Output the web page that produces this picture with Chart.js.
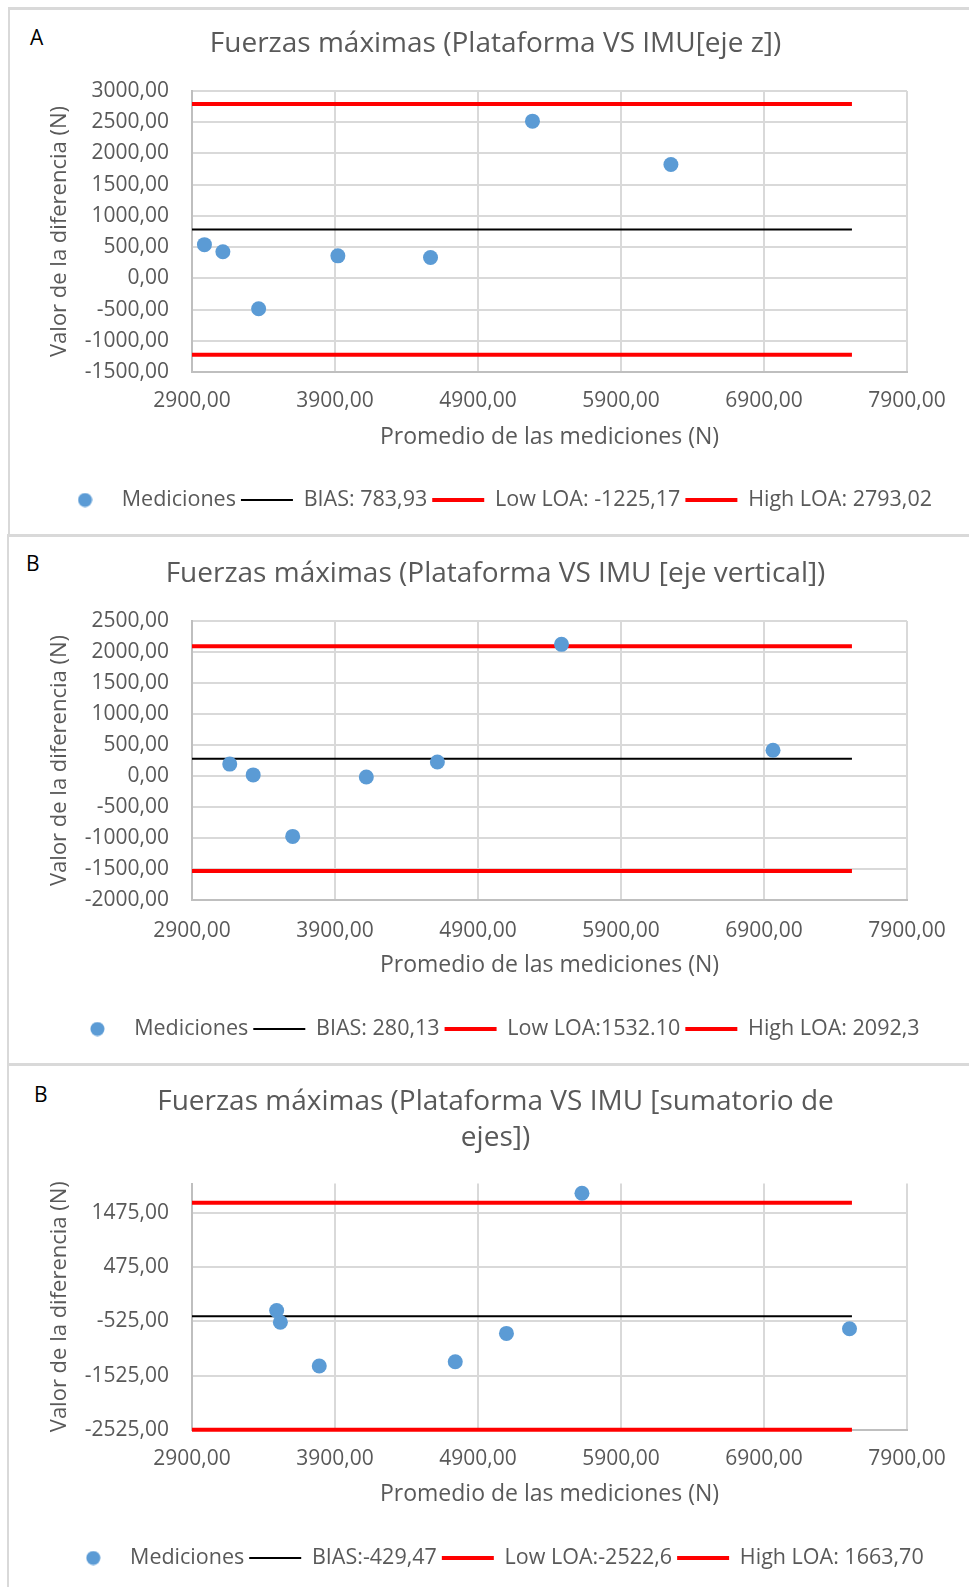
<!DOCTYPE html>
<html lang="es">
<head>
<meta charset="UTF-8">
<title>Fuerzas máximas - Bland-Altman</title>
<script src="https://cdn.jsdelivr.net/npm/chart.js"></script>
<style>
    body {
        margin: 0;
        width: 969px;
        height: 1587px;
        overflow: hidden;
        position: relative;
        background: #fff;
        font-family: "Open Sans", sans-serif;
    }
    /* light grey frame of every Excel chart */
    .frame {
        position: absolute;
        width: 980px;
        border-top: 3px solid #d9d9d9;
        border-left: 2px solid #d9d9d9;
        box-sizing: border-box;
    }
    .tag {
        position: absolute;
        font-size: 21px;
        line-height: 24px;
        color: #000;
    }
    canvas { position: absolute; left: 0; }
</style>
</head>
<body>
    <div class="frame" style="left:8px; top:7px; height:527px;"></div>
    <div class="frame" style="left:7px; top:534px; height:529px;"></div>
    <div class="frame" style="left:7px; top:1063px; height:540px;"></div>
    <div class="tag" style="left:30px; top:25px;">A</div>
    <div class="tag" style="left:26px; top:551px;">B</div>
    <div class="tag" style="left:34px; top:1082px;">B</div>

    <canvas id="chartZ" width="969" height="534" style="top:0px;"></canvas>
    <canvas id="chartV" width="969" height="529" style="top:534px;"></canvas>
    <canvas id="chartS" width="969" height="524" style="top:1063px;"></canvas>
<script>
// ---- data ----
const xTicks = [2900, 3900, 4900, 5900, 6900, 7900];
const lineSpan = [2900, 7515];   // x range of the BIAS / LOA lines

// eje z
const avgZ  = [2987, 3116, 3366, 3920, 4568, 5281, 6249];
const diffZ = [539, 425, -486, 360, 333, 2517, 1824];
const biasZ = 783.93, lowZ = -1225.17, highZ = 2793.02;
const yTicksZ = [-1500, -1000, -500, 0, 500, 1000, 1500, 2000, 2500, 3000];
const legendZ = ['Mediciones', 'BIAS: 783,93', 'Low LOA: -1225,17', 'High LOA: 2793,02'];

// eje vertical
const avgV  = [3164, 3328, 3604, 4119, 4616, 5484, 6963];
const diffV = [192, 18, -974, -15, 225, 2123, 416];
const biasV = 280.13, lowV = -1532.10, highV = 2092.3;
const yTicksV = [-2000, -1500, -1000, -500, 0, 500, 1000, 1500, 2000, 2500];
const legendV = ['Mediciones', 'BIAS: 280,13', 'Low LOA:1532.10', 'High LOA: 2092,3'];

// sumatorio de ejes
const avgS  = [3492, 3518, 3790, 4741, 5099, 5627, 7498];
const diffS = [-324, -538, -1346, -1269, -745, 1841, -658];
const biasS = -429.47, lowS = -2522.6, highS = 1663.70;
const yTicksS = [-2525, -1525, -525, 475, 1475];
const yMaxS = 2020;
const legendS = ['Mediciones', 'BIAS:-429,47', 'Low LOA:-2522,6', 'High LOA: 1663,70'];

const FONT = '"Open Sans", sans-serif';
const GREY = '#595959';
const BLUE = '#5B9BD5';

// little dot used as the legend marker for the scatter series
const dot = document.createElement('canvas');
dot.width = 15; dot.height = 15;
const dctx = dot.getContext('2d');
dctx.fillStyle = BLUE;
dctx.beginPath();
dctx.arc(7.5, 7.5, 7, 0, Math.PI * 2);
dctx.fill();

const fmt = v => Number(v).toFixed(2).replace('.', ',');

function hLine(label, value, color, width) {
    return {
        type: 'line',
        label: label,
        data: lineSpan.map(x => ({ x: x, y: value })),
        borderColor: color,
        backgroundColor: color,
        borderWidth: width,
        pointRadius: 0,
        pointStyle: 'line',
        clip: false,
        yAxisID: 'y'
    };
}

function buildChart(id, d, p) {
    const ctx = document.getElementById(id).getContext('2d');
    return new Chart(ctx, {
        type: 'scatter',
        data: {
            datasets: [
                {
                    label: d.legend[0],
                    data: d.avg.map((x, i) => ({ x: x, y: d.diff[i] })),
                    backgroundColor: BLUE,
                    borderWidth: 0,
                    pointRadius: 7.5,
                    pointHoverRadius: 7.5,
                    clip: false,
                    yAxisID: 'y'
                },
                hLine(d.legend[1], d.bias, '#000000', 2),
                hLine(d.legend[2], d.low, '#FF0000', 4),
                hLine(d.legend[3], d.high, '#FF0000', 4)
            ]
        },
        options: {
            responsive: false,
            animation: false,
            layout: { padding: { left: 22, right: 0, top: 0, bottom: p.padBottom } },
            plugins: {
                tooltip: { enabled: false },
                title: {
                    display: true,
                    text: d.title,
                    color: GREY,
                    font: { family: FONT, size: 28, weight: 'normal', lineHeight: p.titleLH },
                    padding: { top: p.titleTop, bottom: p.titleBottom }
                },
                legend: {
                    position: 'bottom',
                    labels: {
                        usePointStyle: true,
                        pointStyleWidth: 52,
                        boxHeight: 10,
                        padding: 5,
                        color: GREY,
                        font: { family: FONT, size: 21.5 },
                        generateLabels(chart) {
                            const items = Chart.defaults.plugins.legend.labels.generateLabels(chart);
                            items[0].pointStyle = dot;
                            return items;
                        }
                    }
                }
            },
            scales: {
                x: {
                    type: 'linear',
                    min: xTicks[0],
                    max: xTicks[xTicks.length - 1],
                    afterBuildTicks: s => { s.ticks = xTicks.map(v => ({ value: v })); },
                    grid: { color: '#d9d9d9', lineWidth: 2, drawTicks: false },
                    border: { color: '#bfbfbf', width: 2 },
                    ticks: {
                        padding: p.xTickPad,
                        color: GREY,
                        font: { family: FONT, size: 21 },
                        maxRotation: 0,
                        callback: v => fmt(v)
                    },
                    title: {
                        display: true,
                        text: 'Promedio de las mediciones (N)',
                        color: GREY,
                        font: { family: FONT, size: 23 },
                        padding: { top: p.xTitleTop, bottom: p.xTitleBottom }
                    }
                },
                y: {
                    type: 'linear',
                    position: 'left',
                    min: d.yTicks[0],
                    max: d.yMax,
                    afterBuildTicks: s => { s.ticks = d.yTicks.map(v => ({ value: v })); },
                    afterFit: s => { s.width = 170; },
                    grid: { color: '#d9d9d9', lineWidth: 2, drawTicks: false },
                    border: { color: '#bfbfbf', width: 2 },
                    ticks: {
                        padding: 23,
                        color: GREY,
                        font: { family: FONT, size: 21 },
                        callback: v => fmt(v)
                    },
                    title: {
                        display: true,
                        text: 'Valor de la diferencia (N)',
                        color: GREY,
                        font: { family: FONT, size: 22 },
                        padding: { top: 24.8, bottom: 0 }
                    }
                },
                // empty right-hand space so the plot stops at 7900 while the legend stays centred
                y2: {
                    position: 'right',
                    grid: { display: false },
                    border: { display: false },
                    ticks: { display: false },
                    afterFit: s => { s.width = 62; }
                }
            }
        }
    });
}

buildChart('chartZ',
    { avg: avgZ, diff: diffZ, bias: biasZ, low: lowZ, high: highZ, yTicks: yTicksZ,
      yMax: yTicksZ[yTicksZ.length - 1], legend: legendZ,
      title: 'Fuerzas máximas (Plataforma VS IMU[eje z])' },
    { titleLH: 1.2, titleTop: 27.7, titleBottom: 29.7, padBottom: 13.25,
      xTickPad: 16.4, xTitleTop: -6.8, xTitleBottom: 33.45 });

buildChart('chartV',
    { avg: avgV, diff: diffV, bias: biasV, low: lowV, high: highV, yTicks: yTicksV,
      yMax: yTicksV[yTicksV.length - 1], legend: legendV,
      title: 'Fuerzas máximas (Plataforma VS IMU [eje vertical])' },
    { titleLH: 1.2, titleTop: 23.2, titleBottom: 30.2, padBottom: 13.25,
      xTickPad: 18.4, xTitleTop: -10.3, xTitleBottom: 33.95 });

buildChart('chartS',
    { avg: avgS, diff: diffS, bias: biasS, low: lowS, high: highS, yTicks: yTicksS,
      yMax: yMaxS, legend: legendS,
      title: ['Fuerzas máximas (Plataforma VS IMU [sumatorio de', 'ejes])'] },
    { titleLH: 1.268, titleTop: 21.5, titleBottom: 28, padBottom: 8.25,
      xTickPad: 16.8, xTitleTop: -7.7, xTitleBottom: 33.65 });
</script>
</body>
</html>
